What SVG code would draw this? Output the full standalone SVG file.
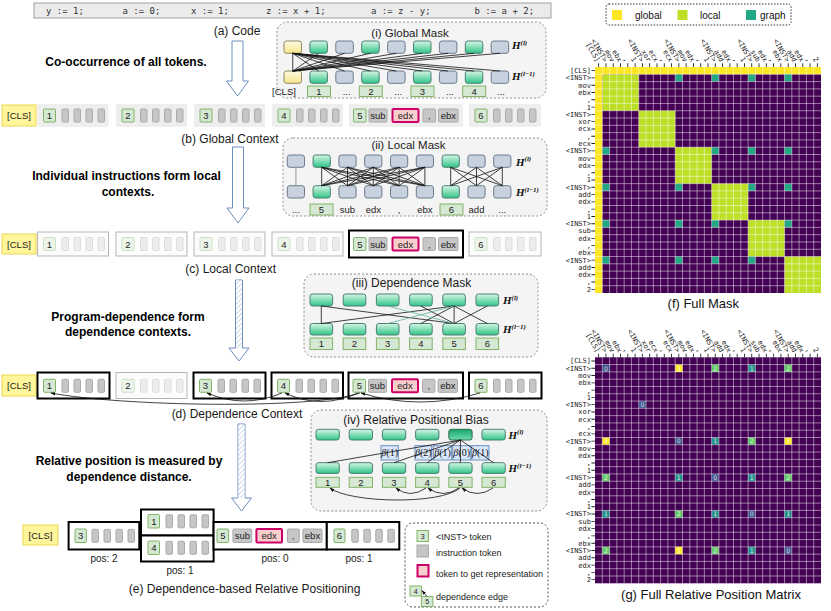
<svg xmlns="http://www.w3.org/2000/svg" width="831" height="611" viewBox="0 0 831 611">
<defs>
<style>
text{font-family:"Liberation Sans",Arial,sans-serif}
.cap{font-size:12px;fill:#1a1a1a;text-anchor:middle}
.ttl{font-size:11.5px;fill:#1a1a1a;text-anchor:middle}
.bold{font-size:12px;font-weight:bold;fill:#000;text-anchor:middle}
.tt{font-size:9.5px;fill:#222;text-anchor:middle}
.lg{font-size:9px;fill:#222}
.pos{font-size:10px;fill:#222;text-anchor:middle}
.code{font-family:"DejaVu Sans Mono",monospace;font-size:9px;fill:#333}
.panel{fill:#f4f4f4;stroke:#8c8c8c;stroke-dasharray:2 2}
.num{fill:#d5e8d4;stroke:#82b366}
.tok{fill:#c6c6c6;stroke:#aaaaaa}
.hl{fill:#f8cecc;stroke:#cc0066;stroke-width:2}
.fnum{fill:#eef6ec;stroke:#cde0c5}
.ftok{fill:#ececec;stroke:#dddddd}
.cls{fill:#fff59a;stroke:#ecd54e}
.bgb{fill:#eeeeee}
.thk{fill:#fff;stroke:#000;stroke-width:2}
.fbx{fill:#fcfcfc;stroke:#b5b5b5}
.gr{fill:url(#gG);stroke:#4b7f73}
.gd{fill:url(#gD);stroke:#2e6b55}
.gy{fill:url(#gY);stroke:#8b8660}
.bl{fill:#c8d2de;stroke:#6b7b8e}
.H{font-family:"Liberation Serif",serif;font-style:italic;font-weight:bold;font-size:11px;fill:#111}
.sup{font-size:7px}
.beta{fill:#dae8fc;stroke:#6c8ebf}
.bt{font-family:"Liberation Serif",serif;font-size:10px;fill:#111;text-anchor:middle}
.tl{font-family:"DejaVu Sans Mono",monospace;font-size:7px;fill:#222}
.re{text-anchor:end}
.ln{stroke:#111;stroke-width:.8;fill:none}
.arr{fill:#fff;stroke:#6c8ebf}
.dep{stroke:#111;stroke-width:.8;fill:none;marker-end:url(#ah)}
.dg{font-family:"DejaVu Sans",sans-serif;font-size:.85px;fill:#fff;fill-opacity:.85;text-anchor:middle}
.lgt{font-size:10px;fill:#111}
</style>
<linearGradient id="gG" x1="0" y1="0" x2="0" y2="1"><stop offset="0" stop-color="#d6f6e6"/><stop offset="1" stop-color="#2fc486"/></linearGradient>
<linearGradient id="gD" x1="0" y1="0" x2="0" y2="1"><stop offset="0" stop-color="#17a56b"/><stop offset="1" stop-color="#6ddcab"/></linearGradient>
<linearGradient id="gY" x1="0" y1="0" x2="0" y2="1"><stop offset="0" stop-color="#fffbe2"/><stop offset="1" stop-color="#f6e58a"/></linearGradient>
<pattern id="hatch" width="3.5" height="3.5" patternUnits="userSpaceOnUse" patternTransform="rotate(45)"><rect width="3.5" height="3.5" fill="#fff"/><line x1="0" y1="0" x2="0" y2="3.5" stroke="#9fb5d3" stroke-width="1"/></pattern>
<marker id="ah" viewBox="0 0 10 10" refX="9" refY="5" markerWidth="6" markerHeight="6" orient="auto"><path d="M0 1.5L10 5L0 8.5Z" fill="#111"/></marker>
<g id="t4"><rect class="tok" x="0" y="0" width="6.5" height="13" rx="1.2"/><rect class="tok" x="12" y="0" width="6.5" height="13" rx="1.2"/><rect class="tok" x="24" y="0" width="6.5" height="13" rx="1.2"/><rect class="tok" x="36" y="0" width="6.5" height="13" rx="1.2"/></g>
<g id="f4"><rect class="ftok" x="0" y="0" width="6.5" height="13" rx="1.2"/><rect class="ftok" x="12" y="0" width="6.5" height="13" rx="1.2"/><rect class="ftok" x="24" y="0" width="6.5" height="13" rx="1.2"/><rect class="ftok" x="36" y="0" width="6.5" height="13" rx="1.2"/></g>
<path id="gridp" d="M1 0V31M2 0V31M3 0V31M4 0V31M5 0V31M6 0V31M7 0V31M8 0V31M9 0V31M10 0V31M11 0V31M12 0V31M13 0V31M14 0V31M15 0V31M16 0V31M17 0V31M18 0V31M19 0V31M20 0V31M21 0V31M22 0V31M23 0V31M24 0V31M25 0V31M26 0V31M27 0V31M28 0V31M29 0V31M30 0V31M0 1H31M0 2H31M0 3H31M0 4H31M0 5H31M0 6H31M0 7H31M0 8H31M0 9H31M0 10H31M0 11H31M0 12H31M0 13H31M0 14H31M0 15H31M0 16H31M0 17H31M0 18H31M0 19H31M0 20H31M0 21H31M0 22H31M0 23H31M0 24H31M0 25H31M0 26H31M0 27H31M0 28H31M0 29H31M0 30H31" fill="none" stroke="#fff" stroke-opacity=".5" stroke-width=".13"/>
<g id="ticks"><line x1="0" y1="-.25" x2="31" y2="-.25" stroke="#222" stroke-width=".5" stroke-dasharray="0 .44 .12 .44"/><line x1="-.25" y1="0" x2="-.25" y2="31" stroke="#222" stroke-width=".5" stroke-dasharray="0 .44 .12 .44"/></g>
</defs>

<rect width="831" height="611" fill="#fff"/>

<g id="code">
<rect x="34" y="3" width="517" height="15" fill="#ebebeb" stroke="#a0a0a0"/>
<text class="code" x="46" y="13.8">y := 1;</text>
<text class="code" x="122.5" y="13.8">a := 0;</text>
<text class="code" x="191" y="13.8">x := 1;</text>
<text class="code" x="266" y="13.8">z := x + 1;</text>
<text class="code" x="371" y="13.8">a := z - y;</text>
<text class="code" x="474.5" y="13.8">b := a + 2;</text>
</g>

<g id="captions">
<text class="cap" x="237" y="35">(a) Code</text>
<text class="cap" x="230" y="143">(b) Global Context</text>
<text class="cap" x="230.7" y="273">(c) Local Context</text>
<text class="cap" x="237" y="418">(d) Dependence Context</text>
<text class="cap" x="244.6" y="592.5">(e) Dependence-based Relative Positioning</text>
<text class="bold" x="126" y="66">Co-occurrence of all tokens.</text>
<text class="bold" x="126.5" y="180">Individual instructions form local</text>
<text class="bold" x="128" y="196">contexts.</text>
<text class="bold" x="128" y="321">Program-dependence form</text>
<text class="bold" x="128" y="336">dependence contexts.</text>
<text class="bold" x="129" y="465">Relative position is measured by</text>
<text class="bold" x="129" y="481">dependence distance.</text>
</g>

<g id="global-mask">
<rect class="panel" x="277" y="22" width="269" height="76" rx="10"/>
<text class="ttl" x="410" y="36.8">(i) Global Mask</text>
<rect class="gy" x="284" y="41" width="17.5" height="12.3" rx="2.5"/>
<rect class="gr" x="309.9" y="41" width="17.5" height="12.3" rx="2.5"/>
<rect class="bl" x="335.8" y="41" width="17.5" height="12.3" rx="2.5"/>
<rect class="gr" x="361.7" y="41" width="17.5" height="12.3" rx="2.5"/>
<rect class="bl" x="387.6" y="41" width="17.5" height="12.3" rx="2.5"/>
<rect class="gr" x="413.5" y="41" width="17.5" height="12.3" rx="2.5"/>
<rect class="bl" x="439.4" y="41" width="17.5" height="12.3" rx="2.5"/>
<rect class="gr" x="465.3" y="41" width="17.5" height="12.3" rx="2.5"/>
<rect class="bl" x="491.2" y="41" width="17.5" height="12.3" rx="2.5"/>
<rect class="gy" x="284" y="71" width="17.5" height="12.3" rx="2.5"/>
<rect class="gr" x="309.9" y="71" width="17.5" height="12.3" rx="2.5"/>
<rect class="bl" x="335.8" y="71" width="17.5" height="12.3" rx="2.5"/>
<rect class="gr" x="361.7" y="71" width="17.5" height="12.3" rx="2.5"/>
<rect class="bl" x="387.6" y="71" width="17.5" height="12.3" rx="2.5"/>
<rect class="gr" x="413.5" y="71" width="17.5" height="12.3" rx="2.5"/>
<rect class="bl" x="439.4" y="71" width="17.5" height="12.3" rx="2.5"/>
<rect class="gr" x="465.3" y="71" width="17.5" height="12.3" rx="2.5"/>
<rect class="bl" x="491.2" y="71" width="17.5" height="12.3" rx="2.5"/>
<text class="H" x="512" y="49">H<tspan class="sup" dy="-4.5">(l)</tspan></text>
<text class="H" x="512" y="80">H<tspan class="sup" dy="-4.5">(l−1)</tspan></text>
<text class="tt" x="284" y="94.5">[CLS]</text>
<rect class="num" x="307.5" y="86" width="23" height="10.5"/><text class="tt" x="319" y="94.5">1</text>
<text class="tt" x="346.7" y="94.5">...</text>
<rect class="num" x="359.3" y="86" width="23" height="10.5"/><text class="tt" x="370.8" y="94.5">2</text>
<text class="tt" x="398.3" y="94.5">...</text>
<rect class="num" x="411" y="86" width="23" height="10.5"/><text class="tt" x="422.5" y="94.5">3</text>
<text class="tt" x="450" y="94.5">...</text>
<rect class="num" x="462.7" y="86" width="23" height="10.5"/><text class="tt" x="474.2" y="94.5">4</text>
<text class="tt" x="501" y="94.5">...</text>
</g>

<g id="row-b">
<rect class="cls" x="2" y="105" width="34" height="21"/><text class="tt" x="19" y="119">[CLS]</text>
<rect class="bgb" x="37.5" y="104" width="71" height="23"/>
<rect class="num" x="43.5" y="109" width="12" height="13" rx="1"/><text class="tt" x="49.5" y="119">1</text>
<use href="#t4" x="62" y="109"/>
<rect class="bgb" x="116" y="104" width="71" height="23"/>
<rect class="num" x="122" y="109" width="12" height="13" rx="1"/><text class="tt" x="128" y="119">2</text>
<use href="#t4" x="140.5" y="109"/>
<rect class="bgb" x="194" y="104" width="71" height="23"/>
<rect class="num" x="200" y="109" width="12" height="13" rx="1"/><text class="tt" x="206" y="119">3</text>
<use href="#t4" x="218.5" y="109"/>
<rect class="bgb" x="272" y="104" width="71" height="23"/>
<rect class="num" x="278" y="109" width="12" height="13" rx="1"/><text class="tt" x="284" y="119">4</text>
<use href="#t4" x="296.5" y="109"/>
<rect class="bgb" x="349" y="104" width="114" height="23"/>
<rect class="num" x="353.5" y="109" width="12.5" height="13" rx="1"/><text class="tt" x="359.8" y="119">5</text>
<rect class="tok" x="369" y="109" width="18" height="13" rx="1"/><text class="tt" x="378" y="119">sub</text>
<rect class="hl" x="392.5" y="109" width="26" height="13" rx="1"/><text class="tt" x="405.5" y="119">edx</text>
<rect class="tok" x="423" y="109" width="12.5" height="13" rx="1"/><text class="tt" x="429.3" y="119">,</text>
<rect class="tok" x="438.5" y="109" width="19.5" height="13" rx="1"/><text class="tt" x="448.3" y="119">ebx</text>
<rect class="bgb" x="469" y="104" width="72" height="23"/>
<rect class="num" x="475" y="109" width="12" height="13" rx="1"/><text class="tt" x="481" y="119">6</text>
<use href="#t4" x="493.5" y="109"/>
</g>

<g id="local-mask">
<rect class="panel" x="283" y="138" width="264" height="78" rx="10"/>
<text class="ttl" x="408.5" y="149">(ii) Local Mask</text>
<rect class="bl" x="287.3" y="155" width="17.2" height="12.3" rx="2.5"/>
<rect class="gr" x="313.1" y="155" width="17.2" height="12.3" rx="2.5"/>
<rect class="bl" x="338.9" y="155" width="17.2" height="12.3" rx="2.5"/>
<rect class="bl" x="364.7" y="155" width="17.2" height="12.3" rx="2.5"/>
<rect class="bl" x="390.5" y="155" width="17.2" height="12.3" rx="2.5"/>
<rect class="bl" x="416.3" y="155" width="17.2" height="12.3" rx="2.5"/>
<rect class="gr" x="442.1" y="155" width="17.2" height="12.3" rx="2.5"/>
<rect class="bl" x="467.9" y="155" width="17.2" height="12.3" rx="2.5"/>
<rect class="bl" x="493.7" y="155" width="17.2" height="12.3" rx="2.5"/>
<rect class="bl" x="287.3" y="185.7" width="17.2" height="12.3" rx="2.5"/>
<rect class="gr" x="313.1" y="185.7" width="17.2" height="12.3" rx="2.5"/>
<rect class="bl" x="338.9" y="185.7" width="17.2" height="12.3" rx="2.5"/>
<rect class="bl" x="364.7" y="185.7" width="17.2" height="12.3" rx="2.5"/>
<rect class="bl" x="390.5" y="185.7" width="17.2" height="12.3" rx="2.5"/>
<rect class="bl" x="416.3" y="185.7" width="17.2" height="12.3" rx="2.5"/>
<rect class="gr" x="442.1" y="185.7" width="17.2" height="12.3" rx="2.5"/>
<rect class="bl" x="467.9" y="185.7" width="17.2" height="12.3" rx="2.5"/>
<rect class="bl" x="493.7" y="185.7" width="17.2" height="12.3" rx="2.5"/>
<text class="H" x="516" y="165.5">H<tspan class="sup" dy="-4.5">(l)</tspan></text>
<text class="H" x="516" y="196">H<tspan class="sup" dy="-4.5">(l−1)</tspan></text>
<text class="tt" x="295.9" y="213">...</text>
<rect class="num" x="310" y="204" width="23" height="11"/><text class="tt" x="321.5" y="213">5</text>
<text class="tt" x="347.5" y="213">sub</text>
<text class="tt" x="373.3" y="213">edx</text>
<text class="tt" x="399.1" y="213">,</text>
<text class="tt" x="424.9" y="213">ebx</text>
<rect class="num" x="440" y="204" width="23" height="11"/><text class="tt" x="451.5" y="213">6</text>
<text class="tt" x="476.5" y="213">add</text>
<text class="tt" x="502.3" y="213">...</text>
</g>

<g id="row-c">
<rect class="cls" x="2" y="234" width="34" height="20"/><text class="tt" x="19" y="247.5">[CLS]</text>
<rect class="fbx" x="37.5" y="232" width="71" height="24"/>
<rect class="fnum" x="43.5" y="237.5" width="12" height="13" rx="1"/><text class="tt" x="49.5" y="247.5">1</text>
<use href="#f4" x="62" y="237.5"/>
<rect class="fbx" x="116" y="232" width="71" height="24"/>
<rect class="fnum" x="122" y="237.5" width="12" height="13" rx="1"/><text class="tt" x="128" y="247.5">2</text>
<use href="#f4" x="140.5" y="237.5"/>
<rect class="fbx" x="194" y="232" width="71" height="24"/>
<rect class="fnum" x="200" y="237.5" width="12" height="13" rx="1"/><text class="tt" x="206" y="247.5">3</text>
<use href="#f4" x="218.5" y="237.5"/>
<rect class="fbx" x="272" y="232" width="71" height="24"/>
<rect class="fnum" x="278" y="237.5" width="12" height="13" rx="1"/><text class="tt" x="284" y="247.5">4</text>
<use href="#f4" x="296.5" y="237.5"/>
<rect class="thk" x="349" y="230.5" width="114" height="27"/>
<rect class="num" x="353.5" y="237.5" width="12.5" height="13" rx="1"/><text class="tt" x="359.8" y="247.5">5</text>
<rect class="tok" x="369" y="237.5" width="18" height="13" rx="1"/><text class="tt" x="378" y="247.5">sub</text>
<rect class="hl" x="392.5" y="237.5" width="26" height="13" rx="1"/><text class="tt" x="405.5" y="247.5">edx</text>
<rect class="tok" x="423" y="237.5" width="12.5" height="13" rx="1"/><text class="tt" x="429.3" y="247.5">,</text>
<rect class="tok" x="438.5" y="237.5" width="19.5" height="13" rx="1"/><text class="tt" x="448.3" y="247.5">ebx</text>
<rect class="fbx" x="469" y="232" width="72" height="24"/>
<rect class="fnum" x="475" y="237.5" width="12" height="13" rx="1"/><text class="tt" x="481" y="247.5">6</text>
<use href="#f4" x="493.5" y="237.5"/>
</g>

<g id="dependence-mask">
<rect class="panel" x="304" y="274" width="234" height="83" rx="10"/>
<text class="ttl" x="411.5" y="286.7" style="font-size:12px">(iii) Dependence Mask</text>
<rect class="gr" x="310" y="294" width="22.6" height="12" rx="2.5"/>
<rect class="gr" x="343.2" y="294" width="22.6" height="12" rx="2.5"/>
<rect class="gr" x="376.4" y="294" width="22.6" height="12" rx="2.5"/>
<rect class="gr" x="409.6" y="294" width="22.6" height="12" rx="2.5"/>
<rect class="gr" x="442.8" y="294" width="22.6" height="12" rx="2.5"/>
<rect class="gr" x="476" y="294" width="22.6" height="12" rx="2.5"/>
<rect class="gr" x="310" y="323.5" width="22.6" height="11.5" rx="2.5"/>
<rect class="gr" x="343.2" y="323.5" width="22.6" height="11.5" rx="2.5"/>
<rect class="gr" x="376.4" y="323.5" width="22.6" height="11.5" rx="2.5"/>
<rect class="gr" x="409.6" y="323.5" width="22.6" height="11.5" rx="2.5"/>
<rect class="gr" x="442.8" y="323.5" width="22.6" height="11.5" rx="2.5"/>
<rect class="gr" x="476" y="323.5" width="22.6" height="11.5" rx="2.5"/>
<text class="H" x="503" y="304">H<tspan class="sup" dy="-4.5">(l)</tspan></text>
<text class="H" x="503" y="333">H<tspan class="sup" dy="-4.5">(l−1)</tspan></text>
<rect class="num" x="310" y="338" width="22.6" height="11.5"/><text class="tt" x="321.3" y="347.3">1</text>
<rect class="num" x="343.2" y="338" width="22.6" height="11.5"/><text class="tt" x="354.5" y="347.3">2</text>
<rect class="num" x="376.4" y="338" width="22.6" height="11.5"/><text class="tt" x="387.7" y="347.3">3</text>
<rect class="num" x="409.6" y="338" width="22.6" height="11.5"/><text class="tt" x="420.9" y="347.3">4</text>
<rect class="num" x="442.8" y="338" width="22.6" height="11.5"/><text class="tt" x="454.1" y="347.3">5</text>
<rect class="num" x="476" y="338" width="22.6" height="11.5"/><text class="tt" x="487.3" y="347.3">6</text>
</g>

<g id="row-d">
<rect class="cls" x="2" y="375" width="34" height="21"/><text class="tt" x="19" y="389">[CLS]</text>
<rect class="thk" x="37.5" y="372.5" width="72" height="26"/>
<rect class="num" x="43.5" y="379.3" width="12" height="13" rx="1"/><text class="tt" x="49.5" y="389.3">1</text>
<use href="#t4" x="62" y="379.3"/>
<rect class="fbx" x="116" y="372.5" width="71" height="26"/>
<rect class="fnum" x="122" y="379.3" width="12" height="13" rx="1"/><text class="tt" x="128" y="389.3">2</text>
<use href="#f4" x="140.5" y="379.3"/>
<rect class="thk" x="193.5" y="372.5" width="72" height="26"/>
<rect class="num" x="199.5" y="379.3" width="12" height="13" rx="1"/><text class="tt" x="205.5" y="389.3">3</text>
<use href="#t4" x="218" y="379.3"/>
<rect class="thk" x="271.5" y="372.5" width="71.5" height="26"/>
<rect class="num" x="277.5" y="379.3" width="12" height="13" rx="1"/><text class="tt" x="283.5" y="389.3">4</text>
<use href="#t4" x="296" y="379.3"/>
<rect class="thk" x="348.5" y="372.5" width="114.5" height="26"/>
<rect class="num" x="353" y="379.3" width="12.5" height="13" rx="1"/><text class="tt" x="359.3" y="389.3">5</text>
<rect class="tok" x="368.5" y="379.3" width="18" height="13" rx="1"/><text class="tt" x="377.5" y="389.3">sub</text>
<rect class="hl" x="392" y="379.3" width="26" height="13" rx="1"/><text class="tt" x="405" y="389.3">edx</text>
<rect class="tok" x="422.5" y="379.3" width="12.5" height="13" rx="1"/><text class="tt" x="428.8" y="389.3">,</text>
<rect class="tok" x="438" y="379.3" width="19.5" height="13" rx="1"/><text class="tt" x="447.8" y="389.3">ebx</text>
<rect class="thk" x="469" y="372.5" width="72.5" height="26"/>
<rect class="num" x="475" y="379.3" width="12" height="13" rx="1"/><text class="tt" x="481" y="389.3">6</text>
<use href="#t4" x="493.5" y="379.3"/>
</g>

<g id="relative-bias">
<rect class="panel" x="311" y="410" width="236" height="101" rx="10"/>
<text class="ttl" x="416" y="424.3" style="font-size:12px">(iv) Relative Positional Bias</text>
<rect class="gr" x="316" y="429.3" width="23.3" height="10.7" rx="2.5"/>
<rect class="gr" x="349.2" y="429.3" width="23.3" height="10.7" rx="2.5"/>
<rect class="gr" x="382.4" y="429.3" width="23.3" height="10.7" rx="2.5"/>
<rect class="gr" x="415.6" y="429.3" width="23.3" height="10.7" rx="2.5"/>
<rect class="gd" x="448.8" y="429.3" width="23.3" height="10.7" rx="2.5"/>
<rect class="gr" x="482" y="429.3" width="23.3" height="10.7" rx="2.5"/>
<rect class="beta" x="381" y="445.7" width="17.3" height="14.3"/><text class="bt" x="389.7" y="456.3"><tspan font-style="italic">β</tspan>(1)</text>
<rect class="beta" x="415" y="445.7" width="16.7" height="14.3"/><text class="bt" x="423.3" y="456.3"><tspan font-style="italic">β</tspan>(2)</text>
<rect class="beta" x="433.3" y="445.7" width="18.4" height="14.3"/><text class="bt" x="442.5" y="456.3"><tspan font-style="italic">β</tspan>(1)</text>
<rect class="beta" x="452.7" y="445.7" width="18" height="14.3"/><text class="bt" x="461.7" y="456.3"><tspan font-style="italic">β</tspan>(0)</text>
<rect class="beta" x="471.7" y="445.7" width="17.3" height="14.3"/><text class="bt" x="480.3" y="456.3"><tspan font-style="italic">β</tspan>(1)</text>
<rect class="gr" x="316" y="462.7" width="23.3" height="10.7" rx="2.5"/>
<rect class="gr" x="349.2" y="462.7" width="23.3" height="10.7" rx="2.5"/>
<rect class="gr" x="382.4" y="462.7" width="23.3" height="10.7" rx="2.5"/>
<rect class="gr" x="415.6" y="462.7" width="23.3" height="10.7" rx="2.5"/>
<rect class="gr" x="448.8" y="462.7" width="23.3" height="10.7" rx="2.5"/>
<rect class="gr" x="482" y="462.7" width="23.3" height="10.7" rx="2.5"/>
<text class="H" x="508.5" y="438.5">H<tspan class="sup" dy="-4.5">(l)</tspan></text>
<text class="H" x="508.5" y="472">H<tspan class="sup" dy="-4.5">(l−1)</tspan></text>
<rect class="num" x="316" y="477.3" width="23.3" height="10"/><text class="tt" x="327.6" y="485.8">1</text>
<rect class="num" x="349.2" y="477.3" width="23.3" height="10"/><text class="tt" x="360.8" y="485.8">2</text>
<rect class="num" x="382.4" y="477.3" width="23.3" height="10"/><text class="tt" x="394" y="485.8">3</text>
<rect class="num" x="415.6" y="477.3" width="23.3" height="10"/><text class="tt" x="427.2" y="485.8">4</text>
<rect class="num" x="448.8" y="477.3" width="23.3" height="10"/><text class="tt" x="460.4" y="485.8">5</text>
<rect class="num" x="482" y="477.3" width="23.3" height="10"/><text class="tt" x="493.6" y="485.8">6</text>
</g>

<g id="row-e">
<rect class="cls" x="23" y="525" width="35" height="20"/><text class="tt" x="40.5" y="538.5">[CLS]</text>
<rect class="thk" x="68.6" y="522" width="70.7" height="27.5"/>
<rect class="num" x="75" y="529" width="11.4" height="13.5" rx="1"/><text class="tt" x="80.7" y="539.3">3</text>
<use href="#t4" x="92" y="529.3"/>
<rect class="thk" x="141" y="509.5" width="72.6" height="26"/>
<rect class="num" x="148" y="514.5" width="11.5" height="13.5" rx="1"/><text class="tt" x="153.8" y="524.8">1</text>
<use href="#t4" x="166" y="514.8"/>
<rect class="thk" x="141" y="535.5" width="72.6" height="26"/>
<rect class="num" x="148" y="541" width="11.5" height="13.5" rx="1"/><text class="tt" x="153.8" y="551.3">4</text>
<use href="#t4" x="166" y="541.3"/>
<rect class="thk" x="213.6" y="522" width="113.2" height="27.5"/>
<rect class="num" x="217" y="529" width="11.6" height="13.5" rx="1"/><text class="tt" x="222.8" y="539.3">5</text>
<rect class="tok" x="232.9" y="529" width="18.9" height="13.5" rx="1"/><text class="tt" x="242.3" y="539.3">sub</text>
<rect class="hl" x="256.4" y="529" width="25.6" height="13.5" rx="1"/><text class="tt" x="269.2" y="539.3">edx</text>
<rect class="tok" x="287.5" y="529" width="11.8" height="13.5" rx="1"/><text class="tt" x="293.4" y="539.3">,</text>
<rect class="tok" x="302.9" y="529" width="19.1" height="13.5" rx="1"/><text class="tt" x="312.5" y="539.3">ebx</text>
<rect class="thk" x="326.8" y="522" width="72.5" height="27.5"/>
<rect class="num" x="334" y="529" width="11" height="13.5" rx="1"/><text class="tt" x="339.5" y="539.3">6</text>
<use href="#t4" x="351.8" y="529.3"/>
<text class="pos" x="104" y="562">pos: 2</text>
<text class="pos" x="180" y="574">pos: 1</text>
<text class="pos" x="275" y="562">pos: 0</text>
<text class="pos" x="359" y="562">pos: 1</text>
</g>

<g id="legend-e">
<rect x="405" y="523" width="143" height="84" rx="8" fill="#fff" stroke="#555" stroke-dasharray="2 2"/>
<rect class="num" x="417" y="530.5" width="11.5" height="11"/><text class="tt" x="422.7" y="538.8" style="font-size:7px">3</text>
<text class="lg" x="436" y="540">&lt;INST&gt; token</text>
<rect class="tok" x="417" y="545" width="11.5" height="12"/>
<text class="lg" x="436" y="556">instruction token</text>
<rect class="hl" x="417.5" y="565" width="11" height="11.5"/>
<text class="lg" x="436" y="576.7">token to get representation</text>
<rect class="num" x="410" y="586" width="11.4" height="10"/><text class="tt" x="415.7" y="593.6" style="font-size:7px">4</text>
<rect class="num" x="421.4" y="596.5" width="11.5" height="10"/><text class="tt" x="427.1" y="604.1" style="font-size:7px">5</text>
<text class="lg" x="436" y="600">dependence edge</text>
</g>

<g id="legend-f">
<rect x="606" y="4" width="185" height="21" rx="3" fill="#fff" stroke="#333" stroke-dasharray="1.5 1.5"/>
<rect x="612" y="10" width="10" height="10" fill="#fde725"/>
<text class="lgt" x="635" y="18.5">global</text>
<rect x="677.5" y="10" width="10" height="10" fill="#bddf26"/>
<text class="lgt" x="700" y="18.5">local</text>
<rect x="746" y="10" width="10" height="10" fill="#22a884"/>
<text class="lgt" x="760" y="18.5">graph</text>
</g>

<g id="full-mask">
<g transform="translate(595 67) scale(7.29)">
<rect width="31" height="31" fill="#440154"/>
<rect width="31" height="1" fill="#fde725"/>
<rect width="1" height="31" fill="#fde725"/>
<rect x="1" y="1" width="5" height="5" fill="#bddf26"/>
<rect x="6" y="6" width="5" height="5" fill="#bddf26"/>
<rect x="11" y="11" width="5" height="5" fill="#bddf26"/>
<rect x="16" y="16" width="5" height="5" fill="#bddf26"/>
<rect x="21" y="21" width="5" height="5" fill="#bddf26"/>
<rect x="26" y="26" width="5" height="5" fill="#bddf26"/>
<path fill="#22a884" d="M11 1h1v1h-1zM16 1h1v1h-1zM21 1h1v1h-1zM26 1h1v1h-1zM1 11h1v1h-1zM16 11h1v1h-1zM21 11h1v1h-1zM26 11h1v1h-1zM1 16h1v1h-1zM11 16h1v1h-1zM21 16h1v1h-1zM26 16h1v1h-1zM1 21h1v1h-1zM11 21h1v1h-1zM16 21h1v1h-1zM26 21h1v1h-1zM1 26h1v1h-1zM11 26h1v1h-1zM16 26h1v1h-1zM21 26h1v1h-1z"/>
<use href="#gridp"/>
<use href="#ticks"/>
</g>
<text class="tl re" transform="translate(596.2 62.5) rotate(60)">[CLS]</text>
<text class="tl re" transform="translate(603.5 62.5) rotate(60)">&lt;INST&gt;</text>
<text class="tl re" transform="translate(610.8 62.5) rotate(60)">mov</text>
<text class="tl re" transform="translate(618.1 62.5) rotate(60)">ebx</text>
<text class="tl re" transform="translate(625.4 62.5) rotate(60)">,</text>
<text class="tl re" transform="translate(632.7 62.5) rotate(60)">1</text>
<text class="tl re" transform="translate(640 62.5) rotate(60)">&lt;INST&gt;</text>
<text class="tl re" transform="translate(647.3 62.5) rotate(60)">xor</text>
<text class="tl re" transform="translate(654.6 62.5) rotate(60)">ecx</text>
<text class="tl re" transform="translate(661.9 62.5) rotate(60)">,</text>
<text class="tl re" transform="translate(669.1 62.5) rotate(60)">ecx</text>
<text class="tl re" transform="translate(676.4 62.5) rotate(60)">&lt;INST&gt;</text>
<text class="tl re" transform="translate(683.7 62.5) rotate(60)">mov</text>
<text class="tl re" transform="translate(691 62.5) rotate(60)">edx</text>
<text class="tl re" transform="translate(698.3 62.5) rotate(60)">,</text>
<text class="tl re" transform="translate(705.6 62.5) rotate(60)">1</text>
<text class="tl re" transform="translate(712.9 62.5) rotate(60)">&lt;INST&gt;</text>
<text class="tl re" transform="translate(720.2 62.5) rotate(60)">add</text>
<text class="tl re" transform="translate(727.5 62.5) rotate(60)">edx</text>
<text class="tl re" transform="translate(734.8 62.5) rotate(60)">,</text>
<text class="tl re" transform="translate(742 62.5) rotate(60)">1</text>
<text class="tl re" transform="translate(749.3 62.5) rotate(60)">&lt;INST&gt;</text>
<text class="tl re" transform="translate(756.6 62.5) rotate(60)">sub</text>
<text class="tl re" transform="translate(763.9 62.5) rotate(60)">edx</text>
<text class="tl re" transform="translate(771.2 62.5) rotate(60)">,</text>
<text class="tl re" transform="translate(778.5 62.5) rotate(60)">ebx</text>
<text class="tl re" transform="translate(785.8 62.5) rotate(60)">&lt;INST&gt;</text>
<text class="tl re" transform="translate(793.1 62.5) rotate(60)">add</text>
<text class="tl re" transform="translate(800.4 62.5) rotate(60)">edx</text>
<text class="tl re" transform="translate(807.7 62.5) rotate(60)">,</text>
<text class="tl re" transform="translate(814.9 62.5) rotate(60)">2</text>
<text class="tl re"><tspan x="591" y="73">[CLS]</tspan><tspan x="591" y="80.3">&lt;INST&gt;</tspan><tspan x="591" y="87.6">mov</tspan><tspan x="591" y="94.9">ebx</tspan><tspan x="591" y="102.2">,</tspan><tspan x="591" y="109.5">1</tspan><tspan x="591" y="116.8">&lt;INST&gt;</tspan><tspan x="591" y="124.1">xor</tspan><tspan x="591" y="131.4">ecx</tspan><tspan x="591" y="138.6">,</tspan><tspan x="591" y="145.9">ecx</tspan><tspan x="591" y="153.2">&lt;INST&gt;</tspan><tspan x="591" y="160.5">mov</tspan><tspan x="591" y="167.8">edx</tspan><tspan x="591" y="175.1">,</tspan><tspan x="591" y="182.4">1</tspan><tspan x="591" y="189.7">&lt;INST&gt;</tspan><tspan x="591" y="197">add</tspan><tspan x="591" y="204.3">edx</tspan><tspan x="591" y="211.5">,</tspan><tspan x="591" y="218.8">1</tspan><tspan x="591" y="226.1">&lt;INST&gt;</tspan><tspan x="591" y="233.4">sub</tspan><tspan x="591" y="240.7">edx</tspan><tspan x="591" y="248">,</tspan><tspan x="591" y="255.3">ebx</tspan><tspan x="591" y="262.6">&lt;INST&gt;</tspan><tspan x="591" y="269.9">add</tspan><tspan x="591" y="277.2">edx</tspan><tspan x="591" y="284.4">,</tspan><tspan x="591" y="291.7">2</tspan></text>
<text x="703.3" y="308" style="font-size:13px;fill:#111;text-anchor:middle">(f) Full Mask</text>
</g>

<g id="full-relpos">
<g transform="translate(595 357.3) scale(7.29)">
<rect width="31" height="31" fill="#440154"/>
<path fill="#3b528b" d="M1 1h1v1h-1zM6 6h1v1h-1zM11 11h1v1h-1zM16 16h1v1h-1zM21 21h1v1h-1zM26 26h1v1h-1z"/>
<path fill="#21918c" d="M21 1h1v1h-1zM16 11h1v1h-1zM11 16h1v1h-1zM21 16h1v1h-1zM1 21h1v1h-1zM16 21h1v1h-1zM26 21h1v1h-1zM21 26h1v1h-1z"/>
<path fill="#5ec962" d="M16 1h1v1h-1zM26 1h1v1h-1zM21 11h1v1h-1zM1 16h1v1h-1zM26 16h1v1h-1zM11 21h1v1h-1zM1 26h1v1h-1zM16 26h1v1h-1z"/>
<path fill="#fde725" d="M11 1h1v1h-1zM1 11h1v1h-1zM26 11h1v1h-1zM11 26h1v1h-1z"/>
<use href="#gridp"/>
<use href="#ticks"/>
<text class="dg" x="1.5" y="1.82">0</text><text class="dg" x="11.5" y="1.82">3</text><text class="dg" x="16.5" y="1.82">2</text><text class="dg" x="21.5" y="1.82">1</text><text class="dg" x="26.5" y="1.82">2</text>
<text class="dg" x="6.5" y="6.82">0</text>
<text class="dg" x="1.5" y="11.82">3</text><text class="dg" x="11.5" y="11.82">0</text><text class="dg" x="16.5" y="11.82">1</text><text class="dg" x="21.5" y="11.82">2</text><text class="dg" x="26.5" y="11.82">3</text>
<text class="dg" x="1.5" y="16.82">2</text><text class="dg" x="11.5" y="16.82">1</text><text class="dg" x="16.5" y="16.82">0</text><text class="dg" x="21.5" y="16.82">1</text><text class="dg" x="26.5" y="16.82">2</text>
<text class="dg" x="1.5" y="21.82">1</text><text class="dg" x="11.5" y="21.82">2</text><text class="dg" x="16.5" y="21.82">1</text><text class="dg" x="21.5" y="21.82">0</text><text class="dg" x="26.5" y="21.82">1</text>
<text class="dg" x="1.5" y="26.82">2</text><text class="dg" x="11.5" y="26.82">3</text><text class="dg" x="16.5" y="26.82">2</text><text class="dg" x="21.5" y="26.82">1</text><text class="dg" x="26.5" y="26.82">0</text>
</g>
<text class="tl re" transform="translate(596.2 353) rotate(60)">[CLS]</text>
<text class="tl re" transform="translate(603.5 353) rotate(60)">&lt;INST&gt;</text>
<text class="tl re" transform="translate(610.8 353) rotate(60)">mov</text>
<text class="tl re" transform="translate(618.1 353) rotate(60)">ebx</text>
<text class="tl re" transform="translate(625.4 353) rotate(60)">,</text>
<text class="tl re" transform="translate(632.7 353) rotate(60)">1</text>
<text class="tl re" transform="translate(640 353) rotate(60)">&lt;INST&gt;</text>
<text class="tl re" transform="translate(647.3 353) rotate(60)">xor</text>
<text class="tl re" transform="translate(654.6 353) rotate(60)">ecx</text>
<text class="tl re" transform="translate(661.9 353) rotate(60)">,</text>
<text class="tl re" transform="translate(669.1 353) rotate(60)">ecx</text>
<text class="tl re" transform="translate(676.4 353) rotate(60)">&lt;INST&gt;</text>
<text class="tl re" transform="translate(683.7 353) rotate(60)">mov</text>
<text class="tl re" transform="translate(691 353) rotate(60)">edx</text>
<text class="tl re" transform="translate(698.3 353) rotate(60)">,</text>
<text class="tl re" transform="translate(705.6 353) rotate(60)">1</text>
<text class="tl re" transform="translate(712.9 353) rotate(60)">&lt;INST&gt;</text>
<text class="tl re" transform="translate(720.2 353) rotate(60)">add</text>
<text class="tl re" transform="translate(727.5 353) rotate(60)">edx</text>
<text class="tl re" transform="translate(734.8 353) rotate(60)">,</text>
<text class="tl re" transform="translate(742 353) rotate(60)">1</text>
<text class="tl re" transform="translate(749.3 353) rotate(60)">&lt;INST&gt;</text>
<text class="tl re" transform="translate(756.6 353) rotate(60)">sub</text>
<text class="tl re" transform="translate(763.9 353) rotate(60)">edx</text>
<text class="tl re" transform="translate(771.2 353) rotate(60)">,</text>
<text class="tl re" transform="translate(778.5 353) rotate(60)">ebx</text>
<text class="tl re" transform="translate(785.8 353) rotate(60)">&lt;INST&gt;</text>
<text class="tl re" transform="translate(793.1 353) rotate(60)">add</text>
<text class="tl re" transform="translate(800.4 353) rotate(60)">edx</text>
<text class="tl re" transform="translate(807.7 353) rotate(60)">,</text>
<text class="tl re" transform="translate(814.9 353) rotate(60)">2</text>
<text class="tl re"><tspan x="591" y="363.3">[CLS]</tspan><tspan x="591" y="370.6">&lt;INST&gt;</tspan><tspan x="591" y="377.9">mov</tspan><tspan x="591" y="385.2">ebx</tspan><tspan x="591" y="392.5">,</tspan><tspan x="591" y="399.8">1</tspan><tspan x="591" y="407.1">&lt;INST&gt;</tspan><tspan x="591" y="414.4">xor</tspan><tspan x="591" y="421.7">ecx</tspan><tspan x="591" y="428.9">,</tspan><tspan x="591" y="436.2">ecx</tspan><tspan x="591" y="443.5">&lt;INST&gt;</tspan><tspan x="591" y="450.8">mov</tspan><tspan x="591" y="458.1">edx</tspan><tspan x="591" y="465.4">,</tspan><tspan x="591" y="472.7">1</tspan><tspan x="591" y="480">&lt;INST&gt;</tspan><tspan x="591" y="487.3">add</tspan><tspan x="591" y="494.6">edx</tspan><tspan x="591" y="501.8">,</tspan><tspan x="591" y="509.1">1</tspan><tspan x="591" y="516.4">&lt;INST&gt;</tspan><tspan x="591" y="523.7">sub</tspan><tspan x="591" y="531">edx</tspan><tspan x="591" y="538.3">,</tspan><tspan x="591" y="545.6">ebx</tspan><tspan x="591" y="552.9">&lt;INST&gt;</tspan><tspan x="591" y="560.2">add</tspan><tspan x="591" y="567.5">edx</tspan><tspan x="591" y="574.7">,</tspan><tspan x="591" y="582">2</tspan></text>
<text x="711" y="599" style="font-size:13px;fill:#111;text-anchor:middle">(g) Full Relative Position Matrix</text>
</g>

<g id="connectors">
<path class="arr" d="M232 41H243V81H248.5L237.5 96L226.5 81H232Z"/>
<path class="arr" d="M232.5 147H243.5V208H249L238 223L227 208H232.5Z"/>
<path class="arr" d="M235.5 280H242.5V348H249L239 361L229 348H235.5Z"/>
<rect x="236" y="280.5" width="6" height="67.5" fill="url(#hatch)"/>
<path class="arr" d="M238 424H245V498H251.5L241.5 511L231.5 498H238Z"/>
<rect x="238.5" y="424.5" width="6" height="73.5" fill="url(#hatch)"/>
<path class="ln" d="M292.75 53.3L318.65 71M292.75 53.3L344.55 71M292.75 53.3L370.45 71M292.75 53.3L396.35 71M292.75 53.3L422.25 71M292.75 53.3L448.15 71M292.75 53.3L474.05 71M292.75 53.3L499.95 71M318.65 53.3L292.75 71M344.55 53.3L292.75 71M370.45 53.3L292.75 71M396.35 53.3L292.75 71M422.25 53.3L292.75 71M448.15 53.3L292.75 71M474.05 53.3L292.75 71M499.95 53.3L292.75 71M292.75 53.3V71"/>
<path d="M295.9 167.3V185.7" stroke="#999" stroke-width="1"/>
<path class="ln" d="M321.7 167.3L321.7 185.7M321.7 167.3L347.5 185.7M321.7 167.3L373.3 185.7M321.7 167.3L399.1 185.7M321.7 167.3L424.9 185.7M347.5 167.3L321.7 185.7M347.5 167.3L347.5 185.7M347.5 167.3L373.3 185.7M347.5 167.3L399.1 185.7M347.5 167.3L424.9 185.7M373.3 167.3L321.7 185.7M373.3 167.3L347.5 185.7M373.3 167.3L373.3 185.7M373.3 167.3L399.1 185.7M373.3 167.3L424.9 185.7M399.1 167.3L321.7 185.7M399.1 167.3L347.5 185.7M399.1 167.3L373.3 185.7M399.1 167.3L399.1 185.7M399.1 167.3L424.9 185.7M424.9 167.3L321.7 185.7M424.9 167.3L347.5 185.7M424.9 167.3L373.3 185.7M424.9 167.3L399.1 185.7M424.9 167.3L424.9 185.7M450.7 167.3L450.7 185.7M450.7 167.3L476.5 185.7M450.7 167.3L502.3 185.7M476.5 167.3L450.7 185.7M476.5 167.3L476.5 185.7M476.5 167.3L502.3 185.7M502.3 167.3L450.7 185.7M502.3 167.3L476.5 185.7M502.3 167.3L502.3 185.7"/>
<path class="ln" d="M454.1 306L321.3 323.5M321.3 306L454.1 323.5M454.1 306L420.9 323.5M420.9 306L454.1 323.5M454.1 306L487.3 323.5M487.3 306L454.1 323.5M454.1 306V323.5M321.3 306V323.5"/>
<path d="M454.1 306L387.7 323.5M387.7 306L454.1 323.5" stroke="#5fb3a1" stroke-width=".8" fill="none"/>
<path class="dep" d="M480 393Q420 411 361 393"/>
<path class="dep" d="M358 393Q321 410 285 393"/>
<path class="dep" d="M282 393Q244 409 207 393"/>
<path class="dep" d="M360 393C310 410 120 406 51 393"/>
<path class="ln" d="M460.4 440L327.6 462.7M460.4 440L394 462.7M460.4 440L427.2 462.7M460.4 440L460.4 462.7M460.4 440L493.6 462.7"/>
<path class="dep" d="M493 488Q477 499 462 488"/>
<path class="dep" d="M459 488Q443 499 428 488"/>
<path class="dep" d="M426 488Q410 499 396 488"/>
<path class="dep" d="M460 488C440 505 350 503 330 488"/>
<path class="dep" d="M427 596.5L422 590.5"/>
</g>
</svg>
